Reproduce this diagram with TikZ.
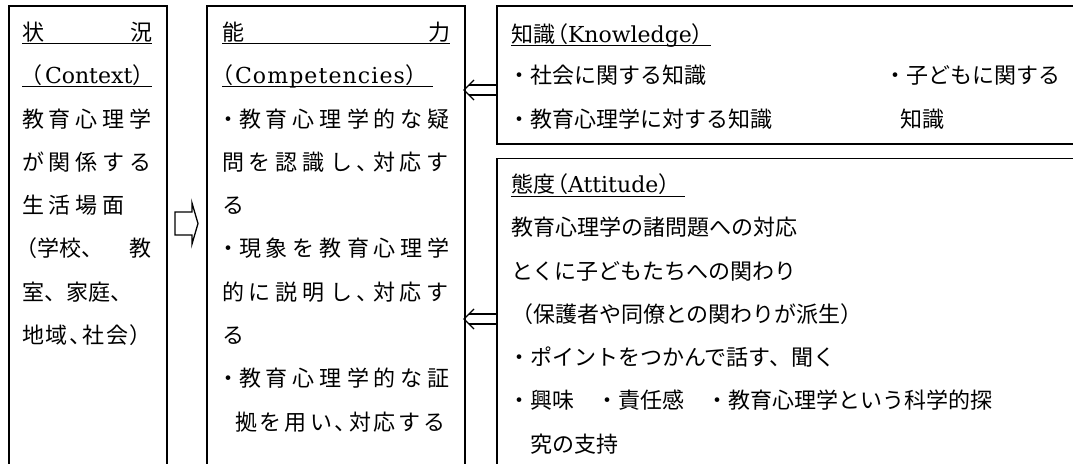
\documentclass[tikz,border=0pt]{standalone}
\usepackage{fontspec}
\setmainfont{DejaVu Serif}
\newfontfamily\jp{Noto Sans CJK JP}
\usetikzlibrary{calc}
\ExplSyntaxOn
\NewDocumentCommand\spread{mm}{\makebox[#1][s]{\tl_map_inline:nn{#2}{##1\hfil}\unskip}}
\ExplSyntaxOff
\newcommand\hw{\makebox[11pt][l]{、}}
\newcommand\nkt{\makebox[22pt][l]{・}}
\tikzset{
  box/.style={draw, line width=1.3pt, anchor=north west, inner sep=0pt, outer sep=0pt},
  txt/.style={anchor=base west, inner sep=0pt, outer sep=0pt, font=\jp\fontsize{22pt}{22pt}\selectfont},
  uline/.style={line width=1.2pt},
  arr/.style={line width=1.3pt, line join=miter},
}
\begin{document}
\begin{tikzpicture}[x=1pt,y=-1pt]
\useasboundingbox (0,0) rectangle (1073,463);
\fill[white] (0,0) rectangle (1073,463);
\clip (0,0) rectangle (1073,463);
% boxes
\node[box, minimum width=158pt, minimum height=500pt] (ctx) at (9,6) {};
\node[box, minimum width=258pt, minimum height=500pt] (mid) at (207,6) {};
\node[box, minimum width=600pt, minimum height=138pt] (know) at (497,6) {};
\node[box, minimum width=600pt, minimum height=400pt] (att) at (497,158.5) {};
% left box text
\node[txt] (l0) at (22,40.4) {\spread{130pt}{状況}};
\draw[uline] (22,43.5) -- (152,43.5);
\node[txt] (l1) at (20,83.7) {\makebox[25pt][l]{（}{\rmfamily Context}）};
\draw[uline] (22,86.5) -- (152,86.5);
\node[txt] (l2) at (22,127) {\spread{130pt}{教育心理学}};
\node[txt] (l3) at (22,170.3) {\spread{130pt}{が関係する}};
\node[txt] (l4) at (22,213.6) {\spread{103pt}{生活場面}};
\node[txt] (l5) at (16,256.9) {（学校、\hspace{26pt}教};
\node[txt] (l6) at (22,300.2) {室、家庭、};
\node[txt] (l7) at (22,343.5) {\spread{130pt}{地域\hw 社会）}};
% middle box text
\node[txt] (m0) at (222,40.4) {\spread{228pt}{能力}};
\draw[uline] (222,43.5) -- (450,43.5);
\node[txt] (m1) at (211,83.7) {\makebox[24pt][l]{（}{\rmfamily\spread{170pt}{Competencies}}）};
\draw[uline] (222,86.5) -- (433,86.5);
\node[txt] (m2) at (217,127) {\nkt\spread{211pt}{教育心理学的な疑}};
\node[txt] (m3) at (222,170.3) {\spread{227pt}{問を認識し\hw 対応す}};
\node[txt] (m4) at (222,213.6) {る};
\node[txt] (m5) at (217,256.9) {\nkt\spread{211pt}{現象を教育心理学}};
\node[txt] (m6) at (222,300.2) {\spread{227pt}{的に説明し\hw 対応す}};
\node[txt] (m7) at (222,343.5) {る};
\node[txt] (m8) at (217,386.8) {\nkt\spread{211pt}{教育心理学的な証}};
\node[txt] (m9) at (235,430.1) {\spread{211pt}{拠を用い\hw 対応する}};
% knowledge box text
\node[txt] (k0) at (511,42.4) {知識\makebox[13pt][r]{（}{\rmfamily Knowledge}）};
\draw[uline] (511,45.5) -- (711,45.5);
\node[txt] (k1) at (508,83.7) {・社会に関する知識};
\node[txt] (k2) at (884,83.7) {・子どもに関する};
\node[txt] (k3) at (508,127) {・教育心理学に対する知識};
\node[txt] (k4) at (900,127) {知識};
% attitude box text
\node[txt] (a0) at (511,192.4) {態度\makebox[13pt][r]{（}{\rmfamily Attitude}）};
\draw[uline] (511,196.5) -- (685,196.5);
\node[txt] (a1) at (511,235.7) {教育心理学の諸問題への対応};
\node[txt] (a2) at (511,279) {とくに子どもたちへの関わり};
\node[txt] (a3) at (511,322.3) {（保護者や同僚との関わりが派生）};
\node[txt] (a4) at (508,365.6) {・ポイントをつかんで話す、聞く};
\node[txt] (a5) at (508,408.9) {・興味　・責任感　・教育心理学という科学的探};
\node[txt] (a6) at (530,452.2) {究の支持};
% open block arrow between context and competencies
\coordinate (b0) at ($(ctx.north east)+(8,206)$);
\draw[arr] (b0) -- ++(17,0) -- ++(0,-9) -- ++(6,20.5) -- ++(-6,20.5) -- ++(0,-9) -- ++(-17,0) -- cycle;
% double arrows from knowledge and attitude to competencies
\coordinate (k1t) at (know.west |- 0,90);
\coordinate (m1t) at (mid.east |- 0,90);
\draw[arr] ($(m1t)+(9,-10)$) -- ($(m1t)+(-1,0)$) -- ($(m1t)+(9,10)$);
\draw[arr] ($(m1t)+(4,-5)$) -- ($(k1t)+(0,-5)$);
\draw[arr] ($(m1t)+(4,5)$) -- ($(k1t)+(0,5)$);
\coordinate (a1t) at (att.west |- 0,319);
\coordinate (m2t) at (mid.east |- 0,319);
\draw[arr] ($(m2t)+(9,-10)$) -- ($(m2t)+(-1,0)$) -- ($(m2t)+(9,10)$);
\draw[arr] ($(m2t)+(4,-5)$) -- ($(a1t)+(0,-5)$);
\draw[arr] ($(m2t)+(4,5)$) -- ($(a1t)+(0,5)$);
\end{tikzpicture}
\end{document}
